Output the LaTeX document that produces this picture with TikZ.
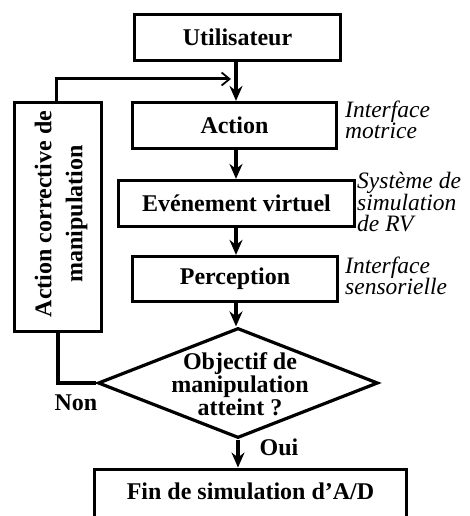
\documentclass[tikz,border=0pt]{standalone}
\usepackage{fontspec}
\setmainfont{Liberation Serif}[
  UprightFont={Liberation Serif},
  BoldFont={Liberation Serif Bold},
  ItalicFont={Liberation Serif Italic},
  BoldItalicFont={Liberation Serif Bold Italic}]
\usetikzlibrary{arrows.meta,shapes.geometric,calc}
\tikzset{
  box/.style={draw, line width=3.2pt, inner sep=0pt, font=\fontsize{24}{24}\selectfont\bfseries},
  btext/.style={inner sep=0pt, align=center, font=\fontsize{24}{23}\selectfont\bfseries},
  itext/.style={inner sep=0pt, align=left, anchor=north west, font=\fontsize{23.5}{21.5}\selectfont\itshape},
  arr/.style={line width=3.2pt, -{Stealth[length=15pt,width=13pt,inset=5pt]}},
  barb/.style={line width=3pt, -{Straight Barb[length=8pt,width=13pt,line width=1.8pt]}},
  plain/.style={line width=3.2pt}
}
\begin{document}
\begin{tikzpicture}[x=1pt,y=1pt]
\useasboundingbox (0,0) rectangle (469,-516);
\clip (0,0) rectangle (469,-516);
% main boxes
\node[box, minimum width=206pt, minimum height=46pt] (u) at (237.5,-37.5) {Utilisateur};
\node[box, minimum width=204pt, minimum height=46pt] (a) at (234.5,-125.5) {Action};
\node[box, minimum width=236pt, minimum height=46pt] (e) at (236.5,-203.5) {Evénement virtuel};
\node[box, minimum width=205pt, minimum height=45pt] (p) at (235,-279) {Perception};
\node[draw, diamond, line width=3.2pt, inner sep=0pt, minimum width=280pt, minimum height=110pt] (d) at (238,-383) {};
\node[btext] (dt) at (240,-384) {Objectif de\\manipulation\\atteint ?};
\node[box, minimum width=312pt, text height=30.5pt, text depth=32pt, anchor=north] (f) at (250.5,-467.5) {Fin de simulation d’A/D};
% left box
\node[box, minimum width=87pt, minimum height=229pt] (lb) at (58,-217) {};
\node[inner sep=0pt, align=center, rotate=90, font=\fontsize{24}{31}\selectfont\bfseries] (lt) at (61,-214) {Action corrective de\\manipulation};
% coordinates
\coordinate (c) at (236,0);
\coordinate (c2) at (238,0);
\coordinate (m) at (236,-79);
% connectors
\draw[arr] (u.south -| c) -- (a.north -| c);
\draw[barb] (lb.north -| 56,0) |- ([xshift=-5pt]m);
\draw[arr] (a.south -| c) -- (e.north -| c);
\draw[arr] (e.south -| c) -- (p.north -| c);
\draw[arr] (p.south -| c) -- (d.north -| c);
\draw[arr] (d.south -| c2) -- (f.north -| c2);
\draw[plain] (lb.south) |- (d.west);
% labels
\node[inner sep=0pt, font=\fontsize{24}{24}\selectfont\bfseries] (non) at (76,-403) {Non};
\node[inner sep=0pt, font=\fontsize{24}{24}\selectfont\bfseries] (oui) at (279,-447.5) {Oui};
\node[itext] (l1) at (345,-100.5) {Interface\\motrice};
\node[itext] (l2) at (357,-172) {Système de\\simulation\\de RV};
\node[itext] (l3) at (345,-256.5) {Interface\\sensorielle};
\end{tikzpicture}
\end{document}
